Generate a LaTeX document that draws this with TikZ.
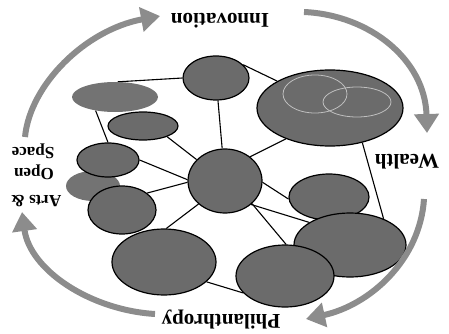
\documentclass[tikz,border=0pt]{standalone}
\usepackage{fontspec}
\setmainfont{Liberation Serif}
\usetikzlibrary{arrows.meta,shapes.geometric,backgrounds}
\begin{document}
\begin{tikzpicture}[x=1pt,y=-1pt,
  bub/.style={ellipse, draw=black, line width=1.2pt, fill=black!58, inner sep=0pt},
  fuzz/.style={ellipse, fill=black!55, inner sep=0pt},
  inner/.style={ellipse, draw=black!25, line width=0.8pt, inner sep=0pt},
  conn/.style={line width=1.1pt},
  cyc/.style={draw=black!45, line width=6pt, -{Triangle[width=24pt,length=19pt]}},
  lab/.style={rotate=180, font=\bfseries\fontsize{21}{25}\selectfont, inner sep=0pt},
  slab/.style={rotate=180, font=\bfseries\fontsize{17}{20}\selectfont, inner sep=0pt}]
\useasboundingbox (0,0) rectangle (449,334);
\path
  node[bub, minimum width=74pt, minimum height=64pt] (C) at (225,181) {}
  node[bub, minimum width=66pt, minimum height=44pt] (T) at (216,78) {}
  node[bub, minimum width=146pt, minimum height=76pt] (B) at (330,108) {}
  node[fuzz, minimum width=86pt, minimum height=30pt] (L1) at (115,97) {}
  node[bub, minimum width=70pt, minimum height=28pt] (L2) at (143,126) {}
  node[fuzz, minimum width=54pt, minimum height=30pt] (L4) at (93,186) {}
  node[bub, minimum width=62pt, minimum height=34pt] (L3) at (108,160) {}
  node[bub, minimum width=68pt, minimum height=48pt] (L5) at (122,210) {}
  node[bub, minimum width=104pt, minimum height=66pt] (BL) at (164,262) {}
  node[bub, minimum width=80pt, minimum height=46pt] (R1) at (329,197) {}
  node[bub, minimum width=112pt, minimum height=64pt] (R2) at (350,245) {}
  node[bub, minimum width=98pt, minimum height=62pt] (BR) at (285,276) {};
\node[inner, minimum width=64pt, minimum height=38pt] (B1) at (315,94) {};
\node[inner, minimum width=68pt, minimum height=30pt] (B2) at (357,102) {};
\begin{scope}[on background layer]
\draw[conn] (C) -- (T);
\draw[conn] (C.44) -- (B.215);
\draw[conn] (T.26) -- (B.153);
\draw[conn] (L1.80) -- (T.180);
\draw[conn] (L1.215) -- (L3.90);
\draw[conn] (L2.-24) -- (C.143);
\draw[conn] (L3.0) -- (C.178);
\draw[conn] (L5.34) -- (C.182);
\draw[conn] (BL.86) -- (C.221);
\draw[conn] (BL.-25) -- (BR.202);
\draw[conn] (C.-2) -- (R1.183);
\draw[conn] (C.-42) -- (R2.151);
\draw[conn] (C.-40) -- (BR.88);
\draw[conn] (B.-47) -- (R2.38);
\end{scope}
\coordinate (a1s) at (25,137); \coordinate (a1e) at (160,16);
\coordinate (a2s) at (304,12); \coordinate (a2e) at (427,133);
\coordinate (a3s) at (424,199); \coordinate (a3e) at (306,319);
\coordinate (a4s) at (155,314); \coordinate (a4e) at (22,212);
\draw[cyc] (a1s) .. controls (30,85) and (85,30) .. (a1e);
\draw[cyc] (a2s) .. controls (370,15) and (425,60) .. (a2e);
\draw[cyc] (a3s) .. controls (420,260) and (370,305) .. (a3e);
\draw[cyc] (a4s) .. controls (90,310) and (30,270) .. (a4e);
\node[lab] (inn) at (220,21) {Innovation};
\node[lab] (wea) at (407,162) {Wealth};
\node[lab] (phi) at (221,320) {Philanthropy};
\node[slab] (spa) at (33,151) {Space};
\node[slab] (ope) at (34,172) {Open};
\node[slab] (art) at (36,201) {Arts \&};
\end{tikzpicture}
\end{document}
